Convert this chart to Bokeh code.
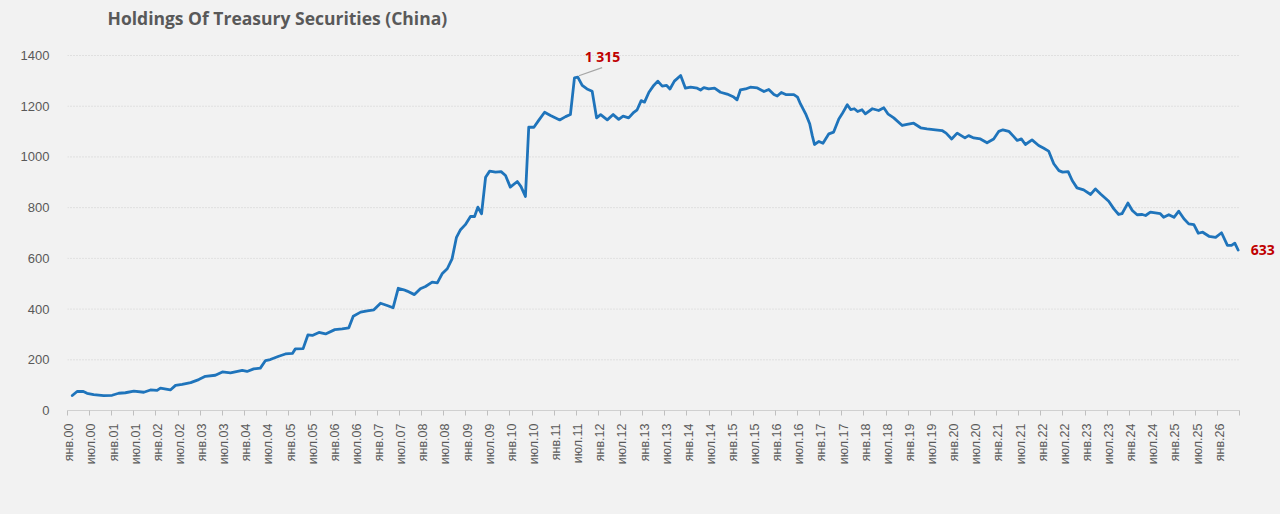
import math
from bokeh.plotting import figure
from bokeh.models import Range1d, FixedTicker, Label, ColumnDataSource
from bokeh.embed import file_html
from bokeh.resources import INLINE

# ---- data (month index since Jan 2000, holdings in $bn) ----
months = [1.3, 2.6, 4.3, 5.3, 7.1, 9.8, 12.1, 13.9, 15.7, 18, 20.7, 22.5, 24.3, 25.2, 27.9, 29.3,
          31.1, 33.4, 35.6, 37.4, 40.1, 42, 44.2, 47.4, 48.7, 50.5, 52.3, 53.7, 55, 57.3, 59.1, 61,
          61.8, 63.9, 65.2, 66.4, 68.2, 70, 72.5, 74.5, 76.3, 77.5, 79.5, 81.3, 83.1, 84.9, 86.7,
          88.3, 89.7, 91.2, 92.1, 94.1, 95.7, 97.1, 98.9, 100.3, 101.6, 103, 104.3, 105.5, 106.6,
          107.9, 109.3, 110.4, 111.3, 112.3, 113.4, 114.5, 116.1, 117.6, 118.8, 120.1, 122, 123,
          124.2, 125.1, 126.5, 127.8, 129.4, 131, 133.5, 135.1, 136.4, 137.5, 138.4, 139.6, 140.9,
          142.3, 143.5, 144.6, 146.4, 148, 149.5, 150.7, 152.2, 153.6, 154.5, 155.6, 156.5, 157.7,
          159, 160.1, 161.3, 162.5, 163.4, 164.6, 166.3, 167.6, 169, 170.8, 171.7, 172.6, 173.9,
          175.5, 177.1, 178.9, 180.7, 181.6, 182.5, 183.9, 185.2, 187.1, 188.9, 190.2, 191.6, 192.5,
          193.6, 194.8, 197, 198, 198.8, 200.2, 201.3, 202, 202.6, 203.8, 204.9, 206.5, 207.8, 209.2,
          210.1, 211.5, 212.4, 213.4, 214.3, 215.5, 216.4, 218.3, 220, 221.4, 222.5, 224.1, 226.4,
          227.7, 229.5, 231.4, 233.1, 235.4, 237.2, 238.3, 239.8, 241.3, 243.4, 244.4, 245.8, 247.6,
          249.4, 251.2, 252.6, 253.7, 255.3, 256.6, 257.6, 258.7, 259.8, 261.6, 263.4, 264.8, 266.1,
          267.5, 268.9, 269.9, 271.4, 272.5, 273.8, 275.6, 277.5, 278.8, 280.2, 282.4, 283.8, 285.1,
          286, 287.6, 288.8, 290.1, 291.5, 292.4, 293.7, 295.5, 296.4, 297.3, 298.7, 300.1, 301.4,
          302.8, 304.1, 305.5, 306.7, 307.9, 309.6, 311.4, 313, 314.6, 315.7, 316.6, 317.5]
holdings = [59, 75, 75, 68, 63, 59, 60, 68, 70, 76, 72, 81, 79, 88, 81, 99,
            103, 110, 122, 135, 139, 152, 148, 158, 154, 164, 167, 197, 201, 214, 223, 225,
            243, 244, 298, 296, 308, 302, 319, 322, 326, 372, 388, 393, 397, 423, 414,
            405, 482, 476, 471, 457, 480, 489, 506, 503, 539, 559, 598, 683, 713,
            733, 765, 765, 802, 776, 920, 944, 940, 942, 927, 881, 903, 883,
            844, 1117, 1117, 1144, 1176, 1163, 1146, 1159, 1167, 1312, 1315, 1282, 1268,
            1259, 1154, 1167, 1146, 1167, 1148, 1161, 1154, 1176, 1186, 1222, 1216, 1255,
            1282, 1299, 1279, 1282, 1268, 1299, 1321, 1271, 1275, 1271, 1264, 1273, 1268,
            1271, 1255, 1248, 1236, 1225, 1264, 1268, 1275, 1272, 1258, 1266, 1246, 1240,
            1254, 1246, 1246, 1236, 1209, 1170, 1131, 1084, 1049, 1061, 1054, 1091, 1098, 1150,
            1170, 1206, 1187, 1190, 1179, 1186, 1170, 1190, 1183, 1194, 1170, 1154, 1124,
            1128, 1133, 1115, 1111, 1107, 1104, 1094, 1071, 1094, 1075, 1084, 1075, 1071,
            1056, 1071, 1101, 1107, 1101, 1081, 1065, 1071, 1049, 1067, 1045, 1034, 1023,
            973, 946, 940, 942, 907, 878, 870, 852, 874, 854, 825, 795, 773,
            776, 818, 789, 772, 773, 769, 782, 778, 776, 762, 772, 762, 786,
            756, 736, 733, 699, 703, 687, 683, 701, 651, 651, 660, 633]

tick_months = list(range(0, 313, 6))
tick_labels = [("янв." if (m // 6) % 2 == 0 else "июл.") + "%02d" % (m // 12) for m in tick_months]
y_ticks = [0, 200, 400, 600, 800, 1000, 1200, 1400]

title_text = "Holdings Of Treasury Securities (China)"
peak_label = "1 315"
last_label = "633"

BG = "#f2f2f2"
TXT = "#595959"
LINE = "#1f74bb"
RED = "#c00000"

AXIS_END = 318.0           # months covered by the category axis
X_END = 1213 / 3.687       # frame extends to the right edge (room for the end label)
Y_END = 410 / (355 / 1400) # frame extends to the top edge (room for the title)

p = figure(width=1280, height=514, output_backend="svg", toolbar_location=None,
           x_range=Range1d(0, X_END), y_range=Range1d(0, Y_END),
           min_border_left=67, min_border_right=0, min_border_top=0, min_border_bottom=104)
p.background_fill_color = BG
p.border_fill_color = BG
p.outline_line_color = None

# x axis
xa = p.xaxis[0]
label_pos = [m + 0.5 for m in tick_months]
xa.ticker = FixedTicker(ticks=label_pos, minor_ticks=tick_months + [AXIS_END])
xa.major_label_overrides = {lp: t for lp, t in zip(label_pos, tick_labels)}
xa.major_label_orientation = math.pi / 2
xa.bounds = (0, AXIS_END)
xa.major_tick_out = 0
xa.major_tick_in = 0
xa.minor_tick_out = 5
xa.minor_tick_in = 0
xa.minor_tick_line_color = "#bfbfbf"
xa.axis_line_color = "#d0d0d0"
xa.major_label_standoff = 8
xa.major_label_text_color = TXT
xa.major_label_text_font = "Liberation Sans"
xa.major_label_text_font_size = "12.5px"

# y axis
ya = p.yaxis[0]
ya.ticker = FixedTicker(ticks=y_ticks)
ya.axis_line_color = None
ya.major_tick_line_color = None
ya.minor_tick_line_color = None
ya.major_label_standoff = 12
ya.major_label_text_color = TXT
ya.major_label_text_font = "Liberation Sans"
ya.major_label_text_font_size = "13px"

p.xgrid.grid_line_color = None
p.ygrid.grid_line_color = None

# horizontal dotted gridlines, limited to the category axis extent
gy = y_ticks[1:]
p.segment(x0=[0] * len(gy), y0=gy, x1=[AXIS_END] * len(gy), y1=gy,
          line_color="#cfcfcf", line_dash="1 2", line_width=1)

src = ColumnDataSource(dict(x=months, y=holdings))
p.line("x", "y", source=src, line_color=LINE, line_width=2.8, line_join="round", line_cap="round")

# leader line for peak annotation
pk = holdings.index(max(holdings[:90]))
p.segment(x0=[months[pk] + 0.3], y0=[holdings[pk] + 5], x1=[145.0], y1=[1352],
          line_color="#a6a6a6", line_width=1.2)

p.add_layout(Label(x=145.1, y=1396, text=peak_label, text_align="center", text_baseline="middle",
                   text_color=RED, text_font="Open Sans", text_font_style="bold",
                   text_font_size="14px"))
p.add_layout(Label(x=months[-1] + 3.4, y=holdings[-1], text=last_label, text_align="left",
                   text_baseline="middle", text_color=RED, text_font="Open Sans",
                   text_font_style="bold", text_font_size="14px"))
p.add_layout(Label(x=10.85, y=1546, text=title_text, text_align="left", text_baseline="middle",
                   text_color=TXT, text_font="Open Sans", text_font_style="bold",
                   text_font_size="17.5px"))

html = file_html(p, INLINE)
html = html.replace("</head>", "<style>html, body { background-color: #f2f2f2; }</style></head>", 1)
open("out.html", "w").write(html)
